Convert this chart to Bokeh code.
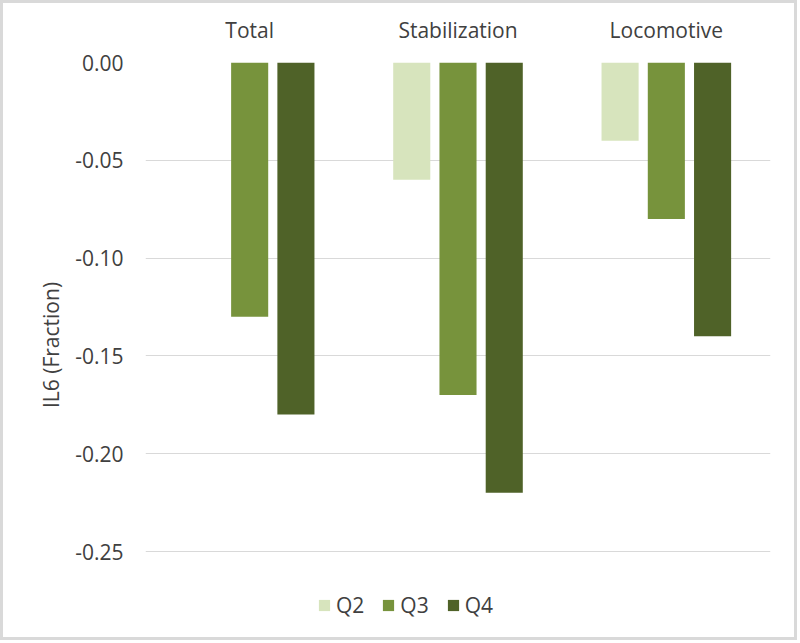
from bokeh.plotting import figure
from bokeh.models import ColumnDataSource, Range1d, NumeralTickFormatter, Legend, LegendItem, FixedTicker
from bokeh.transform import dodge
from bokeh.embed import file_html
from bokeh.resources import INLINE

categories = ["Total", "Stabilization", "Locomotive"]
q2 = [0.0, -0.06, -0.04]
q3 = [-0.13, -0.17, -0.08]
q4 = [-0.18, -0.22, -0.14]
series = ["Q2", "Q3", "Q4"]
colors = ["#d7e4bd", "#77933c", "#4f6228"]
y_ticks = [0.0, -0.05, -0.10, -0.15, -0.20, -0.25]

source = ColumnDataSource(data=dict(cat=categories, Q2=q2, Q3=q3, Q4=q4))

FONT = "Open Sans"
TXT = "#404040"

p = figure(x_range=categories, y_range=Range1d(-0.28885, 0.0),
           width=797, height=640, output_backend="svg", toolbar_location=None,
           x_axis_location="above", min_border_left=142, min_border_right=30,
           min_border_top=59, min_border_bottom=16)
p.styles = {"border": "3px solid #d9d9d9"}
p.outline_line_color = None

offsets = [-0.222, 0.0, 0.222]
renderers = []
for s, off, c in zip(series, offsets, colors):
    r = p.vbar(x=dodge("cat", off, range=p.x_range), top=0, bottom=s, width=0.178,
               source=source, fill_color=c, line_color=None)
    renderers.append(r)

p.xgrid.grid_line_color = None
p.ygrid.grid_line_color = "#d9d9d9"
p.ygrid.grid_line_width = 1
p.ygrid.ticker = FixedTicker(ticks=y_ticks)

p.xaxis.axis_line_color = None
p.xaxis.major_tick_line_color = None
p.xaxis.minor_tick_line_color = None
p.xaxis.major_label_text_font = FONT
p.xaxis.major_label_text_font_size = "21px"
p.xaxis.major_label_text_color = TXT
p.xaxis.major_label_standoff = 13

p.yaxis.ticker = FixedTicker(ticks=y_ticks)
p.yaxis.formatter = NumeralTickFormatter(format="0.00")
p.yaxis.axis_line_color = None
p.yaxis.major_tick_line_color = None
p.yaxis.minor_tick_line_color = None
p.yaxis.major_label_text_font = FONT
p.yaxis.major_label_text_font_size = "21px"
p.yaxis.major_label_text_color = TXT
p.yaxis.major_label_standoff = 16
p.yaxis.axis_label = "IL6 (Fraction)"
p.yaxis.axis_label_text_font = FONT
p.yaxis.axis_label_text_font_size = "21px"
p.yaxis.axis_label_text_font_style = "normal"
p.yaxis.axis_label_text_color = TXT
p.yaxis.axis_label_standoff = 7

legend = Legend(items=[LegendItem(label=s, renderers=[r]) for s, r in zip(series, renderers)],
                orientation="horizontal", location=(172, 8))
legend.label_text_font = FONT
legend.label_text_font_size = "21px"
legend.label_text_color = TXT
legend.glyph_width = 14
legend.glyph_height = 14
legend.spacing = 17
legend.label_standoff = 5
legend.padding = 0
legend.margin = 0
legend.border_line_color = None
legend.background_fill_alpha = 0
p.add_layout(legend)

open("out.html", "w").write(file_html(p, INLINE))
